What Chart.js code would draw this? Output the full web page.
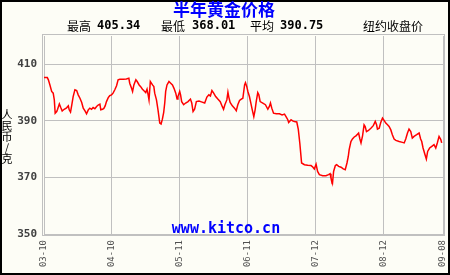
<!DOCTYPE html>
<html>
<head>
<meta charset="utf-8">
<title>半年黄金价格</title>
<script src="https://cdn.jsdelivr.net/npm/chart.js@4.4.1/dist/chart.umd.min.js"></script>
<style>
    body { margin: 0; padding: 0; background: #ffffff; }
    canvas { display: block; }
</style>
</head>
<body>
<canvas id="goldChart" width="450" height="275"></canvas>
<script>
// x axis: days since 03-10
const tickDays = [0, 31, 62, 93, 124, 155, 182];
const tickLabels = ['03-10', '04-10', '05-11', '06-11', '07-12', '08-12', '09-08'];

const days = [
    0.0, 1.5, 2.0, 2.7, 3.5, 4.2, 4.7, 5.1, 5.8, 6.2, 7.0, 7.6, 8.3, 9.2, 10.3, 11.1, 11.5, 12.1, 12.7, 13.3,
    14.1, 14.9, 15.6, 16.4, 17.2, 17.9, 18.7, 19.4, 20.2, 20.9, 21.7, 22.4, 23.2, 24.0, 24.7, 25.5, 25.9, 26.7, 27.3, 27.9,
    28.5, 29.3, 30.0, 30.8, 31.5, 32.3, 33.1, 33.8, 34.6, 36.1, 37.6, 38.7, 39.1, 39.9, 40.4, 41.0, 41.9, 42.5, 43.4, 44.1,
    44.9, 45.5, 46.4, 47.0, 47.5, 47.9, 48.5, 49.5, 50.1, 50.5, 51.3, 52.0, 52.8, 53.4, 54.0, 54.6, 55.1, 55.5, 56.1, 57.0,
    57.8, 58.6, 59.3, 60.1, 60.7, 61.1, 61.9, 62.3, 62.8, 63.7, 64.6, 65.7, 66.8, 67.4, 68.0, 68.7, 69.5, 70.7, 71.8, 73.3,
    74.3, 75.2, 75.9, 76.6, 77.4, 78.3, 79.3, 80.4, 81.3, 81.9, 82.5, 83.4, 83.9, 84.3, 84.9, 85.9, 86.9, 87.7, 88.4, 89.2,
    90.0, 90.7, 91.5, 91.9, 92.5, 93.0, 93.7, 94.2, 95.0, 95.7, 96.3, 96.8, 97.5, 98.0, 98.6, 99.8, 101.0, 102.1, 102.8, 103.3,
    103.9, 104.7, 105.9, 107.4, 108.6, 109.7, 110.4, 111.2, 111.6, 112.7, 113.4, 114.2, 115.3, 116.0, 116.7, 117.5, 118.8, 120.3, 121.8, 122.6,
    123.3, 124.1, 124.8, 125.6, 127.1, 128.6, 129.8, 130.5, 130.9, 131.6, 132.1, 132.9, 133.5, 134.4, 135.5, 136.5, 137.4, 138.2, 138.8, 139.2,
    140.0, 140.7, 141.5, 142.3, 143.0, 143.5, 144.1, 144.6, 145.3, 146.0, 146.5, 147.1, 148.0, 149.1, 150.2, 151.1, 151.7, 152.1, 152.9, 153.6,
    154.4, 155.2, 155.9, 156.7, 157.4, 158.2, 158.9, 159.7, 160.5, 162.0, 163.5, 164.3, 165.0, 165.8, 166.5, 167.3, 168.0, 168.8, 170.0, 171.1,
    171.8, 172.3, 172.9, 173.8, 174.4, 175.0, 175.9, 176.9, 177.9, 178.7, 179.4, 180.2, 181.0, 181.4
];
const prices = [
    405.3, 405.3, 404.5, 402.7, 400.4, 399.8, 397.4, 392.7, 393.3, 394.1, 396.0, 394.8, 393.5, 394.1, 394.6, 395.3, 393.9, 393.1, 395.7, 398.6,
    401.0, 400.7, 399.2, 398.0, 396.5, 394.5, 393.5, 392.5, 393.9, 394.5, 394.1, 394.7, 394.3, 395.1, 395.6, 395.9, 393.9, 394.1, 394.4, 395.3,
    396.8, 398.2, 398.9, 399.2, 399.8, 401.0, 402.4, 404.5, 404.7, 404.7, 404.8, 405.1, 403.3, 401.6, 400.4, 402.7, 404.5, 403.9, 402.7, 402.1,
    401.2, 400.7, 400.0, 401.2, 399.2, 397.4, 403.9, 402.7, 402.1, 399.8, 397.4, 393.9, 389.2, 388.9, 390.6, 393.0, 396.5, 400.4, 402.7, 403.9,
    403.3, 402.7, 401.5, 399.8, 397.7, 398.6, 400.4, 399.2, 396.8, 395.7, 396.3, 396.8, 397.7, 396.3, 393.3, 394.1, 396.8, 397.0, 396.7, 396.3,
    398.4, 399.2, 398.8, 400.7, 399.8, 398.6, 397.7, 396.8, 395.1, 394.1, 395.7, 397.4, 400.1, 398.4, 396.5, 395.3, 394.5, 393.6, 395.7, 397.2,
    397.7, 398.0, 402.7, 403.5, 402.1, 400.4, 398.6, 396.8, 393.9, 391.5, 393.9, 396.8, 400.0, 399.2, 396.8, 396.3, 395.7, 394.1, 395.1, 396.3,
    394.5, 392.7, 392.5, 392.5, 392.1, 392.4, 391.5, 390.4, 389.4, 390.4, 390.0, 389.8, 389.6, 387.0, 382.0, 375.1, 374.5, 374.3, 374.2, 373.7,
    373.0, 374.7, 372.1, 371.0, 370.6, 370.6, 371.0, 371.3, 369.8, 368.0, 372.1, 374.2, 374.5, 373.9, 373.6, 373.0, 372.7, 375.1, 377.4, 379.8,
    382.7, 383.6, 384.3, 384.7, 385.3, 385.7, 383.6, 382.2, 384.7, 388.6, 388.0, 386.2, 386.6, 387.4, 388.3, 389.8, 388.6, 387.1, 387.4, 389.4,
    391.0, 390.1, 389.2, 388.6, 388.0, 386.8, 385.1, 383.6, 383.1, 382.7, 382.4, 382.2, 383.6, 385.7, 387.1, 386.2, 383.9, 384.5, 385.1, 385.7,
    383.6, 382.7, 380.4, 378.0, 376.5, 379.2, 380.4, 381.0, 381.6, 380.4, 382.2, 384.5, 383.4, 382.2
];

const statLabels = ['最高', '最低', '平均'];
const statValues = ['405.34', '368.01', '390.75'];

// background, frame and all the loose text
const decorPlugin = {
    id: 'decor',
    beforeDraw(chart) {
        const c = chart.ctx;
        c.save();
        c.fillStyle = '#fdfdf6';
        c.fillRect(0, 0, chart.width, chart.height);
        c.restore();
    },
    afterDraw(chart) {
        const c = chart.ctx;
        const a = chart.chartArea;
        c.save();

        // double frame round the plot
        c.strokeStyle = '#c0c0c0';
        c.lineWidth = 1;
        c.strokeRect(a.left - 1.5, a.top - 1.5, a.right - a.left + 3, a.bottom - a.top + 3);

        // outer black border
        c.strokeStyle = '#000000';
        c.lineWidth = 2;
        c.strokeRect(1, 1, chart.width - 2, chart.height - 2);

        // title
        c.fillStyle = '#0000ff';
        c.font = 'bold 17px "Noto Sans CJK SC"';
        c.textAlign = 'center';
        c.textBaseline = 'middle';
        c.fillText('半年黄金价格', 224, 10);

        // high / low / average line
        c.textAlign = 'left';
        c.fillStyle = '#000000';
        const labelX = [67, 161, 250];
        const valueX = [97, 192, 280];
        for (let i = 0; i < statLabels.length; i++) {
            c.font = '12px "Noto Sans CJK SC"';
            c.fillText(statLabels[i], labelX[i], 26);
            c.font = 'bold 12px "DejaVu Sans Mono"';
            c.fillText(statValues[i], valueX[i], 26);
        }
        c.font = '12px "Noto Sans CJK SC"';
        c.fillText('纽约收盘价', 363, 26);

        // unit, stacked
        c.textAlign = 'center';
        c.font = '11px "Noto Sans CJK SC"';
        const unit = ['人', '民', '币', '/', '克'];
        unit.forEach((ch, i) => c.fillText(ch, 7, 115 + i * 11));

        // watermark
        c.fillStyle = '#0000ff';
        c.font = 'bold 15px "DejaVu Sans Mono"';
        c.textBaseline = 'alphabetic';
        c.fillText('www.kitco.cn', 226, 233);

        c.restore();
    }
};

const ctx = document.getElementById('goldChart').getContext('2d');
const goldChart = new Chart(ctx, {
    type: 'line',
    data: {
        datasets: [{
            data: days.map((d, i) => ({ x: d, y: prices[i] })),
            borderColor: '#ff0000',
            borderWidth: 1.5,
            pointRadius: 0,
            tension: 0,
            fill: false
        }]
    },
    options: {
        responsive: false,
        devicePixelRatio: 1,
        animation: false,
        layout: {
            padding: { left: 0, top: 36, right: 7, bottom: 0 }
        },
        plugins: {
            legend: { display: false },
            tooltip: { enabled: false }
        },
        scales: {
            x: {
                type: 'linear',
                min: 0,
                max: 182,
                grid: { color: '#c0c0c0', drawTicks: false },
                border: { color: '#c0c0c0' },
                afterBuildTicks: function (scale) {
                    scale.ticks = tickDays.map(v => ({ value: v }));
                },
                afterFit: function (scale) {
                    scale.height = 41;
                    scale.paddingLeft = 0;
                    scale.paddingRight = 0;
                },
                ticks: {
                    autoSkip: false,
                    minRotation: 90,
                    maxRotation: 90,
                    padding: 6,
                    color: '#505050',
                    font: { family: 'DejaVu Sans Mono', size: 9 },
                    callback: function (value, index) {
                        return tickLabels[index];
                    }
                }
            },
            y: {
                min: 350,
                max: 420,
                grid: { color: '#c0c0c0', drawTicks: false },
                border: { color: '#c0c0c0' },
                afterFit: function (scale) {
                    scale.width = 44;
                },
                ticks: {
                    stepSize: 10,
                    padding: 7,
                    color: '#404040',
                    font: { family: 'DejaVu Sans Mono', size: 11, weight: 'bold' },
                    callback: function (value) {
                        return (value % 20 === 10) ? value : null;
                    }
                }
            }
        }
    },
    plugins: [decorPlugin]
});
</script>
</body>
</html>
